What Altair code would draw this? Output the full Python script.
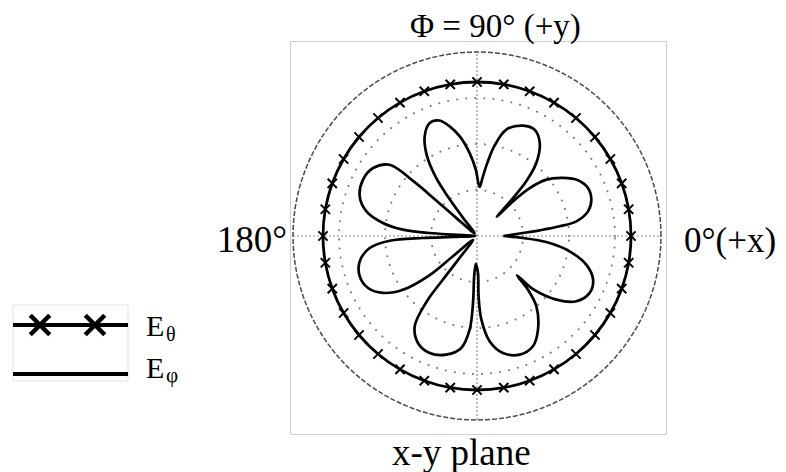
import altair as alt
import pandas as pd

# ---- E_phi pattern (x-y plane), angle in degrees, normalised radius (outer ring = 1)
EPHI_ANGLE = [0, 3.7, 5.2, 6.7, 8.4, 12.5, 17.6, 23.4, 28.9, 34.0, 39.1, 42.3, 43.9, 44.0,
              46.5, 48.0, 50.9, 56.0, 61.5, 67.4, 74.6, 79.0, 82.0, 84.5, 87.0,
              91.0, 95.0, 99.7, 103.9, 108.0, 112.7, 117.7, 122.0, 125.0, 126.5, 127.5, 132.0,
              139.0, 139.0, 139.2, 140.8, 146.8, 153.7, 161.3, 167.4, 172.1, 175.1, 176.4, 176.8, 180.0,
              182.4, 182.1, 183.1, 186.4, 192.2, 199.0, 205.5, 211.2, 216.0, 219.5, 220.0, 225.0,
              231.5, 232.0, 232.5, 235.4, 241.1, 248.0, 255.5, 262.0, 265.5, 266.6, 266.0, 267.5,
              271.5, 271.5, 273.0, 276.9, 282.5, 289.8, 296.9, 303.1, 310.2, 313.5, 315.5,
              316.5, 321.3, 326.7, 333.2, 339.4, 345.3, 350.6, 355.0, 357.5, 360.0]
EPHI_R = [0.143, 0.25, 0.342, 0.452, 0.546, 0.618, 0.652, 0.657, 0.627, 0.564, 0.486, 0.387, 0.272, 0.150,
          0.284, 0.400, 0.511, 0.610, 0.657, 0.650, 0.600, 0.500, 0.400, 0.320, 0.267,
          0.360, 0.451, 0.548, 0.612, 0.660, 0.666, 0.612, 0.513, 0.392, 0.262, 0.131, 0.020,
          0.150, 0.300, 0.450, 0.613, 0.675, 0.691, 0.673, 0.616, 0.516, 0.404, 0.258, 0.130, 0.010,
          0.130, 0.294, 0.475, 0.587, 0.652, 0.674, 0.656, 0.597, 0.497, 0.338, 0.171, 0.030,
          0.150, 0.300, 0.450, 0.596, 0.664, 0.686, 0.666, 0.615, 0.511, 0.365, 0.220, 0.151,
          0.201, 0.328, 0.455, 0.577, 0.651, 0.685, 0.672, 0.607, 0.500, 0.402, 0.305,
          0.420, 0.553, 0.646, 0.686, 0.674, 0.614, 0.510, 0.378, 0.250, 0.143]

# ---- E_theta pattern: constant level, markers every 10 degrees
ETHETA_ANGLE = [0, 10, 20, 30, 40, 50, 60, 70, 80, 90, 100, 110, 120, 130, 140, 150, 160, 170,
                180, 190, 200, 210, 220, 230, 240, 250, 260, 270, 280, 290, 300, 310, 320, 330, 340, 350]
ETHETA_R = [0.837, 0.837, 0.837, 0.837, 0.837, 0.837, 0.837, 0.837, 0.837, 0.837, 0.837, 0.837,
            0.837, 0.837, 0.837, 0.837, 0.837, 0.837, 0.837, 0.837, 0.837, 0.837, 0.837, 0.837,
            0.837, 0.837, 0.837, 0.837, 0.837, 0.837, 0.837, 0.837, 0.837, 0.837, 0.837, 0.837]

GRID_R = [0.25, 0.5, 0.75]
OUTER_R = [1.0]

TITLE_TOP = "Φ = 90° (+y)"
LABEL_LEFT = "180°"
LABEL_RIGHT = "0°(+x)"
LABEL_BOTTOM = "x-y plane"
LEGEND_MAIN = ["E", "E"]
LEGEND_SUB = ["θ", "φ"]

FONT = "Liberation Serif"
W, H = 376, 393
xs = alt.Scale(domain=[-1.0163, 1.0272], nice=False, zero=False)
ys = alt.Scale(domain=[-1.0761, 1.0598], nice=False, zero=False)


def polar(ch):
    return ch.transform_calculate(
        px="datum.r*cos(datum.phi*PI/180)",
        py="datum.r*sin(datum.phi*PI/180)",
    )


def xy():
    return dict(x=alt.X("px:Q", scale=xs, axis=None), y=alt.Y("py:Q", scale=ys, axis=None))


ring_angles = list(range(0, 361, 3))
grid_df = pd.DataFrame([{"ring": g, "phi": a, "r": g, "i": k}
                        for g in GRID_R for k, a in enumerate(ring_angles)])
outer_df = pd.DataFrame([{"ring": g, "phi": a, "r": g, "i": k}
                         for g in OUTER_R for k, a in enumerate(ring_angles)])
ephi_df = pd.DataFrame({"phi": EPHI_ANGLE, "r": EPHI_R, "i": list(range(len(EPHI_R)))})
eth_df = pd.DataFrame({"phi": ETHETA_ANGLE, "r": ETHETA_R, "i": list(range(len(ETHETA_R)))})
axes_df = pd.DataFrame({"x1": [-1.0, 0.0], "x2": [1.0, 0.0], "y1": [0.0, -1.0], "y2": [0.0, 1.0]})

grid = polar(alt.Chart(grid_df)).mark_line(
    color="#7a7a7a", strokeWidth=2, strokeDash=[0.1, 9], strokeCap="round"
).encode(**xy(), detail="ring:N", order="i:Q")

outer = polar(alt.Chart(outer_df)).mark_line(
    color="#4a4a4a", strokeWidth=1.5, strokeDash=[5, 2]
).encode(**xy(), detail="ring:N", order="i:Q")

axes = alt.Chart(axes_df).mark_rule(color="#8a8a8a", strokeWidth=1.2, strokeDash=[2, 2]).encode(
    x=alt.X("x1:Q", scale=xs, axis=None), x2="x2:Q",
    y=alt.Y("y1:Q", scale=ys, axis=None), y2="y2:Q")

eth_line = polar(alt.Chart(eth_df)).mark_line(
    color="black", strokeWidth=2.8, interpolate="cardinal-closed"
).encode(**xy(), order="i:Q")

XSHAPE = "M-1,-1L1,1M-1,1L1,-1"
eth_pts = polar(alt.Chart(eth_df)).mark_point(
    shape=XSHAPE, filled=False, color="black", size=85, strokeWidth=2, opacity=1
).encode(**xy())

ephi_line = polar(alt.Chart(ephi_df)).mark_line(
    color="black", strokeWidth=2.7, interpolate="catmull-rom"
).encode(**xy(), order="i:Q")


def label(txt, x, y, size, align="left"):
    return alt.Chart(pd.DataFrame({"t": [txt]})).mark_text(
        font=FONT, fontSize=size, align=align, baseline="alphabetic", color="black"
    ).encode(text="t:N", x=alt.value(x), y=alt.value(y))


texts = [
    label(TITLE_TOP, 120, -4, 33),
    label(LABEL_LEFT, -3, 211, 37, "right"),
    label(LABEL_RIGHT, 394, 211, 35),
    label(LABEL_BOTTOM, 102, 424, 37),
    label(LEGEND_MAIN[0], -144, 295, 30),
    label(LEGEND_SUB[0], -124, 300, 20),
    label(LEGEND_MAIN[1], -144, 337, 30),
    label(LEGEND_SUB[1], -124, 341, 21),
]

one = pd.DataFrame({"k": [0]})
leg_box = alt.Chart(one).mark_rect(fill="white", stroke="#e2e2e2", strokeWidth=1).encode(
    x=alt.value(-277), x2=alt.value(-162), y=alt.value(264), y2=alt.value(340))
leg_l1 = alt.Chart(one).mark_rule(color="black", strokeWidth=4).encode(
    x=alt.value(-277), x2=alt.value(-162), y=alt.value(284))
leg_l2 = alt.Chart(one).mark_rule(color="black", strokeWidth=4).encode(
    x=alt.value(-277), x2=alt.value(-162), y=alt.value(333))
leg_x1 = alt.Chart(one).mark_point(shape=XSHAPE, filled=False, color="black", size=380,
                                   strokeWidth=4.5, opacity=1).encode(
    x=alt.value(-250), y=alt.value(284))
leg_x2 = alt.Chart(one).mark_point(shape=XSHAPE, filled=False, color="black", size=380,
                                   strokeWidth=4.5, opacity=1).encode(
    x=alt.value(-195), y=alt.value(284))

chart = alt.layer(
    grid, outer, axes, eth_line, eth_pts, ephi_line,
    leg_box, leg_l1, leg_l2, leg_x1, leg_x2, *texts
).properties(
    width=W, height=H,
    padding={"left": 282, "top": 33, "right": 111, "bottom": 38},
    autosize=alt.AutoSizeParams(type="none"),
    background="white",
).configure_view(stroke="#d0d0d0", strokeWidth=1)

chart.save("out.html", embed_options={"renderer": "svg", "actions": False})
